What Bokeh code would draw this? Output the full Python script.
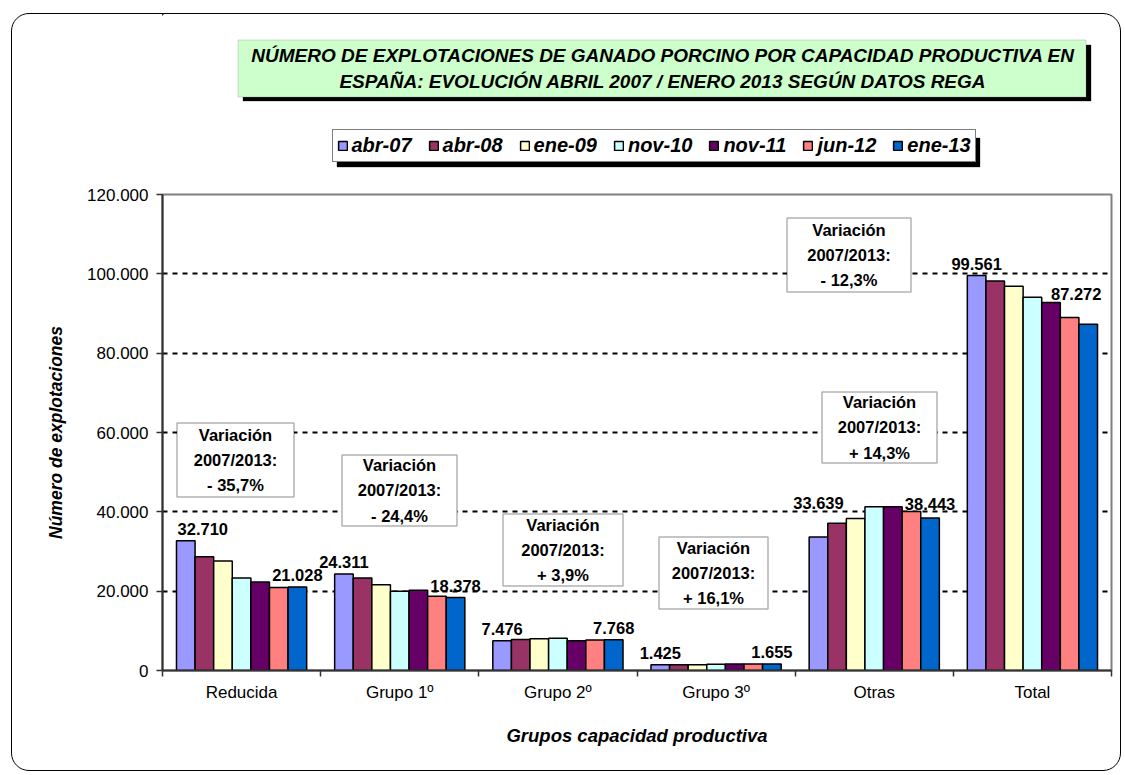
from bokeh.plotting import figure
from bokeh.layouts import column
from bokeh.models import (ColumnDataSource, Range1d, FixedTicker, Label,
                          BoxAnnotation, Legend, LegendItem)
from bokeh.core.properties import value
from bokeh.embed import file_html
from bokeh.resources import INLINE

# ---------------- data ----------------
categories = ["Reducida", "Grupo 1º", "Grupo 2º", "Grupo 3º", "Otras", "Total"]
series = ["abr-07", "abr-08", "ene-09", "nov-10", "nov-11", "jun-12", "ene-13"]
abr_07 = [32710, 24311, 7476, 1425, 33639, 99561]
abr_08 = [28700, 23300, 7800, 1440, 37100, 98200]
ene_09 = [27600, 21600, 8000, 1470, 38300, 96900]
nov_10 = [23300, 20000, 8100, 1560, 41300, 94100]
nov_11 = [22300, 20200, 7500, 1610, 41300, 92800]
jun_12 = [20900, 18700, 7700, 1640, 40100, 89000]
ene_13 = [21028, 18378, 7768, 1655, 38443, 87272]
variacion = ["- 35,7%", "- 24,4%", "+ 3,9%", "+ 16,1%", "+ 14,3%", "- 12,3%"]
y_ticks = [0, 20000, 40000, 60000, 80000, 100000, 120000]
y_tick_labels = ["0", "20.000", "40.000", "60.000", "80.000", "100.000", "120.000"]
title_lines = ["NÚMERO DE EXPLOTACIONES DE GANADO PORCINO POR CAPACIDAD PRODUCTIVA EN",
               "ESPAÑA: EVOLUCIÓN ABRIL 2007 / ENERO 2013 SEGÚN DATOS REGA"]
y_title = "Número de explotaciones"
x_title = "Grupos capacidad productiva"

values = [abr_07, abr_08, ene_09, nov_10, nov_11, jun_12, ene_13]
colors = ["#9999FF", "#993366", "#FFFFCC", "#CCFFFF", "#660066", "#FF8080", "#0066CC"]

# ---------------- layout constants ----------------
FONT = "Liberation Sans"
X0, Y0 = 12.5, 14.5          # page position of the content (inside the css border)
WIDTH = 1108
TOP_H = 170                  # header figure (title + legend)
ML, MT, MR, MB = 150, 10, 9, 100
FW, FH = 949, 476
MAIN_H = MT + FH + MB
Y_MAX = 120000
NC = len(categories)

FRAME_L = X0 + ML
FRAME_B = Y0 + TOP_H + MT + FH


def dx(px):  # page pixel -> main data x
    return (px - FRAME_L) / FW * NC


def dy(py):  # page pixel -> main data y
    return (FRAME_B - py) / FH * Y_MAX


# ================= header figure (title + legend) =================
# its frame is aligned with the main frame horizontally; data units = page pixels
hdr = figure(width=WIDTH, height=TOP_H, x_range=Range1d(FRAME_L, FRAME_L + FW),
             y_range=Range1d(Y0 + TOP_H, Y0), x_axis_type=None, y_axis_type=None,
             output_backend="svg", toolbar_location=None, title=None,
             min_border_left=ML, min_border_right=MR, min_border_top=0, min_border_bottom=0)
hdr.outline_line_color = None
hdr.background_fill_alpha = 0
hdr.border_fill_alpha = 0
hdr.xgrid.visible = False
hdr.ygrid.visible = False

# title box with shadow
hdr.add_layout(BoxAnnotation(left=243, right=1091, top=45, bottom=101,
                             fill_color="black", fill_alpha=1, line_color="black", line_width=1))
hdr.add_layout(BoxAnnotation(left=238, right=1086, top=40, bottom=97,
                             fill_color="#CCFFCC", fill_alpha=1, line_color="#808080", line_width=1))
hdr.add_layout(Label(x=663, y=68.5, text="\n".join(title_lines),
                     text_align="center", text_baseline="middle", text_line_height=1.2,
                     text_font=FONT, text_font_style="bold italic", text_font_size="19px",
                     text_color="black"))

# legend with shadow (swatches styled like the bars)
hdr.add_layout(BoxAnnotation(left=337, right=980, top=138, bottom=167,
                             fill_color="black", fill_alpha=1, line_color="black", line_width=1))
leg_renderers = []
for col in colors:
    leg_renderers.append(hdr.vbar(x=[-1000], top=[0], width=1, fill_color=col,
                                  line_color="black", line_width=1.5))
legend = Legend(items=[LegendItem(label=s, renderers=[r]) for s, r in zip(series, leg_renderers)],
                orientation="horizontal", location=(332 - FRAME_L, (Y0 + TOP_H) - 162),
                label_text_font=FONT, label_text_font_style="bold italic",
                label_text_font_size="20px", label_text_color="black",
                glyph_width=11, glyph_height=11, label_standoff=4, spacing=16,
                padding=4, margin=0, border_line_color="black", border_line_width=1,
                background_fill_color="white", background_fill_alpha=1)
hdr.add_layout(legend, "center")

# ================= main chart =================
p = figure(width=WIDTH, height=MAIN_H, x_range=Range1d(0, NC), y_range=Range1d(0, Y_MAX),
           output_backend="svg", toolbar_location=None, title=None,
           min_border_left=ML, min_border_right=MR, min_border_top=MT, min_border_bottom=MB)
p.background_fill_color = "white"
p.border_fill_alpha = 0
p.outline_line_color = "#808080"
p.outline_line_width = 2

p.xgrid.grid_line_color = None
p.ygrid.ticker = FixedTicker(ticks=y_ticks)
p.ygrid.grid_line_color = "black"
p.ygrid.grid_line_dash = "5 5"
p.ygrid.grid_line_width = 2

ya = p.yaxis[0]
ya.ticker = FixedTicker(ticks=y_ticks)
ya.major_label_overrides = {t: l for t, l in zip(y_ticks, y_tick_labels)}
ya.axis_line_color = "#333333"
ya.axis_line_width = 2
ya.major_tick_line_color = "#333333"
ya.major_tick_line_width = 1.5
ya.major_tick_out = 6
ya.major_tick_in = 0
ya.minor_tick_line_color = None
ya.major_label_standoff = 8
ya.major_label_text_font = FONT
ya.major_label_text_font_size = "17px"
ya.major_label_text_color = "black"
ya.axis_label = y_title
ya.axis_label_text_font = FONT
ya.axis_label_text_font_style = "bold italic"
ya.axis_label_text_font_size = "17.5px"
ya.axis_label_text_color = "black"
ya.axis_label_standoff = 18

centers = [i + 0.5 for i in range(NC)]
bounds = list(range(NC + 1))
xa = p.xaxis[0]
xa.ticker = FixedTicker(ticks=centers, minor_ticks=bounds)
xa.major_label_overrides = {c: n for c, n in zip(centers, categories)}
xa.axis_line_color = "#333333"
xa.axis_line_width = 2
xa.major_tick_line_color = None
xa.minor_tick_line_color = "#333333"
xa.minor_tick_line_width = 1.5
xa.minor_tick_out = 6
xa.minor_tick_in = 0
xa.major_label_standoff = 6
xa.major_label_text_font = FONT
xa.major_label_text_font_size = "17px"
xa.major_label_text_color = "black"
xa.axis_label = x_title
xa.axis_label_text_font = FONT
xa.axis_label_text_font_style = "bold italic"
xa.axis_label_text_font_size = "18.5px"
xa.axis_label_text_color = "black"
xa.axis_label_standoff = 20

# bars
BW = 0.1176
for i, (name, vals, col) in enumerate(zip(series, values, colors)):
    xs = [c + (i - 3) * BW for c in centers]
    src = ColumnDataSource(dict(x=xs, top=vals))
    p.vbar(x="x", top="top", width=BW, source=src, fill_color=col,
           line_color="black", line_width=1.5)

# data labels (first and last series of each group)
lab_x, lab_y, lab_t = [], [], []
for j, c in enumerate(centers):
    for i in (0, len(series) - 1):
        v = values[i][j]
        lab_x.append(c + (i - 3) * BW)
        lab_y.append(v)
        lab_t.append(f"{v:,}".replace(",", "."))
lab_dx = [17, 0, 0, 0, 0, 0, 0, 0, 0, 0, 0, -12]
lab_dy = [-12, -12, -12, -12, -12, -12, -12, -12, -34, -14, -12, -30]
p.text(x="x", y="y", text="t",
       source=ColumnDataSource(dict(x=lab_x, y=lab_y, t=lab_t, ox=lab_dx, oy=lab_dy)),
       x_offset="ox", y_offset="oy", text_align="center", text_baseline="alphabetic",
       text_font=value(FONT), text_font_style="bold", text_font_size="16.5px",
       text_color="black")

# variation boxes
box_px = [(177, 294, 423, 497), (342, 457, 455, 526), (503, 623, 514, 586),
          (659, 768, 537, 609), (822, 937, 392, 463), (787, 911, 218, 292)]
for (l, r_, t, b), var in zip(box_px, variacion):
    p.add_layout(BoxAnnotation(left=dx(l), right=dx(r_), top=dy(t), bottom=dy(b),
                               fill_color="white", fill_alpha=1, line_color="black",
                               line_width=1.5))
    p.add_layout(Label(x=dx((l + r_) / 2), y=dy((t + b) / 2),
                       text="Variación\n2007/2013:\n" + var,
                       text_align="center", text_baseline="middle", text_line_height=1.4,
                       text_font=FONT, text_font_style="bold", text_font_size="16.5px",
                       text_color="black"))

layout = column(hdr, p, spacing=0,
                styles={"border": "1.5px solid black", "border-radius": "18px",
                        "margin-left": "11px", "margin-top": "13px"})

open("out.html", "w").write(file_html(layout, INLINE))
